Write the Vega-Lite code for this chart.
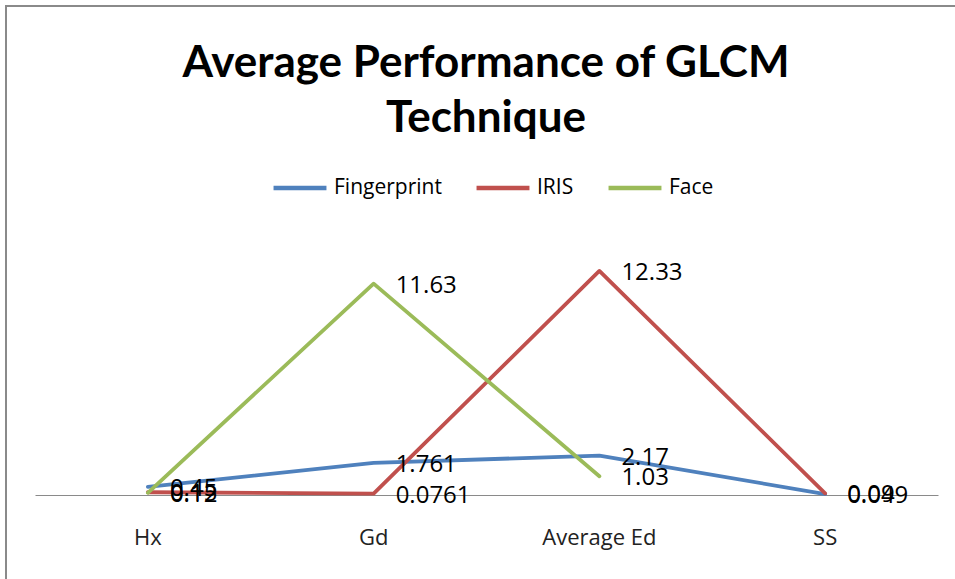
{
  "$schema": "https://vega.github.io/schema/vega-lite/v6.json",
  "width": 960,
  "height": 590,
  "autosize": {"type": "none"},
  "padding": {"left": 6, "top": 6, "right": 0, "bottom": 0},
  "background": "white",
  "config": {"view": {"stroke": "#8a8a8a", "strokeWidth": 2}, "font": "Open Sans"},
  "title": {
    "text": ["Average Performance of GLCM", "Technique"],
    "fontSize": 44,
    "font": "Lato",
    "fontWeight": "bold",
    "color": "black",
    "lineHeight": 55,
    "anchor": "middle",
    "baseline": "top",
    "offset": -135
  },
  "data": {
    "values": [
      {"metric": "Hx", "series": "Fingerprint", "value": 0.45},
      {"metric": "Gd", "series": "Fingerprint", "value": 1.761},
      {"metric": "Average Ed", "series": "Fingerprint", "value": 2.17},
      {"metric": "SS", "series": "Fingerprint", "value": 0.049},
      {"metric": "Hx", "series": "IRIS", "value": 0.15},
      {"metric": "Gd", "series": "IRIS", "value": 0.0761},
      {"metric": "Average Ed", "series": "IRIS", "value": 12.33},
      {"metric": "SS", "series": "IRIS", "value": 0.09},
      {"metric": "Hx", "series": "Face", "value": 0.12},
      {"metric": "Gd", "series": "Face", "value": 11.63},
      {"metric": "Average Ed", "series": "Face", "value": 1.03}
    ]
  },
  "encoding": {
    "x": {
      "field": "metric",
      "type": "nominal",
      "sort": ["Hx", "Gd", "Average Ed", "SS"],
      "scale": {"type": "band", "range": [29, 932], "paddingInner": 0, "paddingOuter": 0},
      "axis": {
        "title": null,
        "orient": "bottom",
        "offset": -101,
        "domainColor": "#8a8a8a",
        "domainWidth": 1,
        "ticks": false,
        "grid": false,
        "labelPadding": 32,
        "labelFontSize": 22,
        "labelColor": "#222222",
        "labelAngle": 0,
        "labelFont": "Open Sans"
      }
    },
    "y": {
      "field": "value",
      "type": "quantitative",
      "scale": {"domain": [-5.56, 26.91], "nice": false, "zero": false},
      "axis": null
    }
  },
  "layer": [
    {
      "mark": {"type": "line", "strokeWidth": 3.8, "strokeJoin": "round", "strokeCap": "round"},
      "encoding": {
        "color": {
          "field": "series",
          "type": "nominal",
          "scale": {"domain": ["Fingerprint", "IRIS", "Face"], "range": ["#4F81BD", "#C0504D", "#9BBB59"]},
          "legend": {
            "orient": "none",
            "legendX": 265,
            "legendY": 153,
            "direction": "horizontal",
            "title": null,
            "symbolType": "stroke",
            "symbolSize": 2800,
            "symbolStrokeWidth": 4.5,
            "labelFontSize": 21,
            "labelColor": "black",
            "labelFont": "Open Sans",
            "labelOffset": 5,
            "columnPadding": 25
          }
        }
      }
    },
    {
      "mark": {"type": "text", "align": "left", "baseline": "middle", "dx": 22, "dy": 2, "fontSize": 24, "color": "black", "font": "Open Sans"},
      "encoding": {
        "text": {"field": "value", "type": "nominal"}
      }
    }
  ]
}
